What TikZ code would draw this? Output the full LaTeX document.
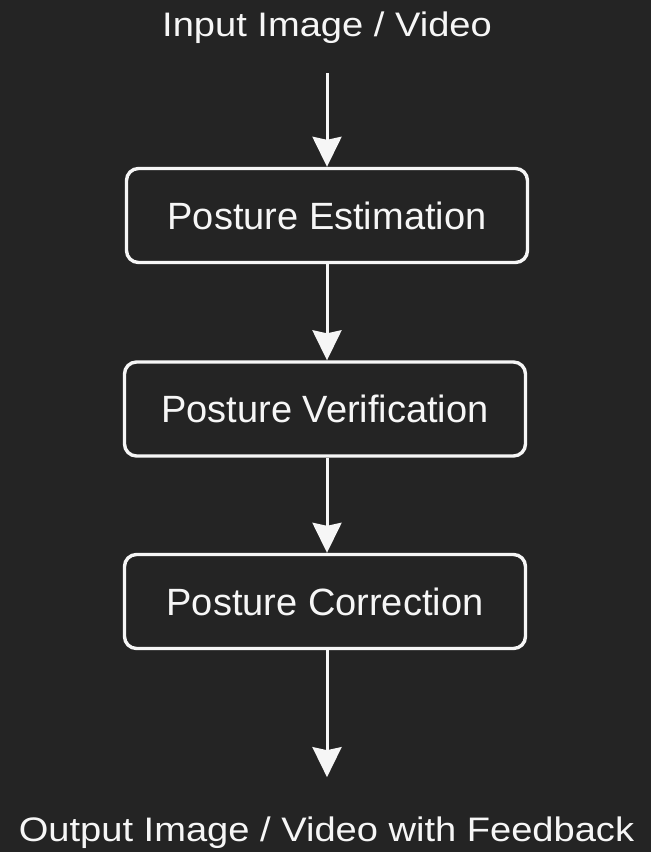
\documentclass[tikz,border=0pt]{standalone}
\usepackage{fontspec}
\usepackage{graphicx}
\setmainfont{Liberation Sans}
\usetikzlibrary{arrows.meta}
\definecolor{bgdark}{RGB}{36,36,36}
\definecolor{inkwhite}{RGB}{246,246,246}
\tikzset{
  stagebox/.style={draw=inkwhite, line width=3.4pt, rounded corners=12pt,
    minimum width=401pt, minimum height=94pt, inner sep=0pt,
    text=inkwhite, font=\fontsize{38}{44}\selectfont},
  endlabel/.style={inner sep=0pt, text=inkwhite, font=\fontsize{34}{40}\selectfont},
  flow/.style={draw=inkwhite, line width=3pt,
    -{Stealth[length=30pt, width=29pt, inset=3pt]}}
}
\begin{document}
\begin{tikzpicture}[x=1pt, y=-1pt]
  % canvas
  \fill[bgdark] (0,0) rectangle (651,852);
  \useasboundingbox (0,0) rectangle (651,852);

  % terminal labels
  \node[endlabel, anchor=base] (input) at (327,36) {\scalebox{1.12}[1]{Input Image / Video}};
  \node[endlabel, anchor=base] (output) at (326.5,841) {\scalebox{1.12}[1]{Output Image / Video with Feedback}};

  % processing stages
  \node[stagebox] (estim) at (327,215.5) {Posture Estimation};
  \node[stagebox] (verif) at (325,409) {Posture Verification};
  \node[stagebox] (corr)  at (325,601.5) {Posture Correction};

  % flow
  \draw[flow, shorten <=30pt] (input.south -| estim.north) -- (estim.north);
  \draw[flow] (estim.south) -- (estim.south |- verif.north);
  \draw[flow] (verif.south -| estim.south) -- (estim.south |- corr.north);
  \draw[flow, shorten >=39pt] (corr.south -| estim.south) -- (estim.south |- output.north);
\end{tikzpicture}
\end{document}
